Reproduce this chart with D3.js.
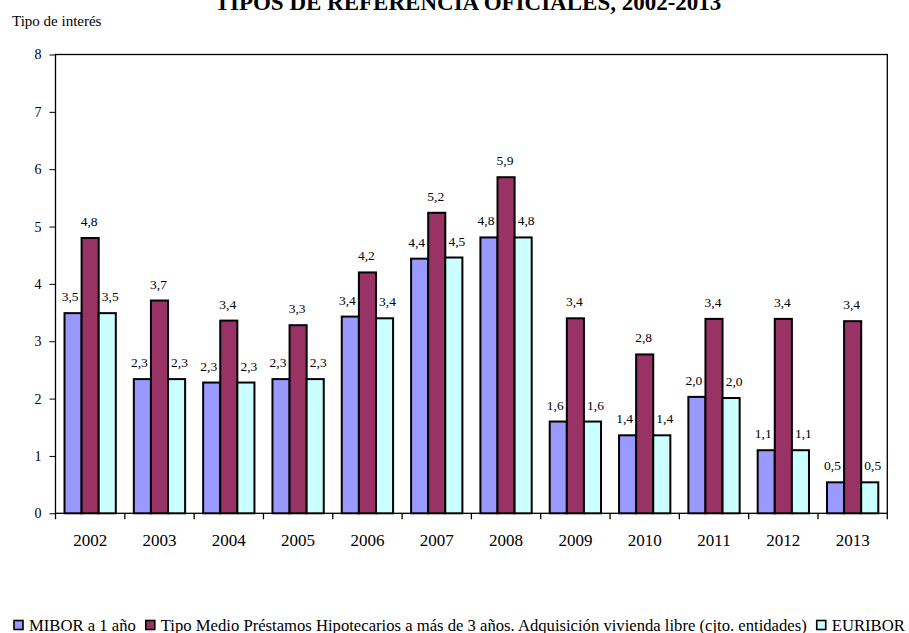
<!DOCTYPE html>
<html>
<head>
<meta charset="utf-8">
<script src="https://cdn.jsdelivr.net/npm/d3@7"></script>
<style>
  body { margin: 0; background: #fff; }
  text { font-family: "Liberation Serif", "Times New Roman", serif; fill: #000; }
</style>
</head>
<body>
<div></div>
<script>
const years = ["2002", "2003", "2004", "2005", "2006", "2007", "2008", "2009", "2010", "2011", "2012", "2013"];
const mibor = [3.49, 2.34, 2.28, 2.34, 3.43, 4.44, 4.81, 1.60, 1.36, 2.03, 1.10, 0.54];
const hipotecario = [4.80, 3.71, 3.36, 3.28, 4.20, 5.24, 5.86, 3.40, 2.77, 3.39, 3.39, 3.35];
const euribor = [3.49, 2.34, 2.28, 2.34, 3.40, 4.46, 4.81, 1.60, 1.36, 2.01, 1.10, 0.54];
const seriesNames = [
  "MIBOR a 1 año",
  "Tipo Medio Préstamos Hipotecarios a más de 3 años. Adquisición vivienda libre (cjto. entidades)",
  "EURIBOR"
];
const yTicks = [0, 1, 2, 3, 4, 5, 6, 7, 8];

const colours = ["#9999ff", "#993366", "#ccffff"];

const size = {
  width: 909,
  height: 633,
  left: 55.5,
  right: 887.3,
  top: 54.5,
  bottom: 513.3
}

const series = [mibor, hipotecario, euribor];
const labelShift = [-3, -1, 3]; // labels sit a little apart, like the source
const fmt = v => d3.format(".1f")(v).replace(".", ",");

function createScales() {
  const x = d3.scaleBand().domain(years)
    .range([size.left, size.right])
    .paddingInner(0.26).paddingOuter(0.13);
  const inner = d3.scaleBand().domain(d3.range(series.length)).range([0, x.bandwidth()]);
  const y = d3.scaleLinear().domain([0, 8]).range([size.bottom, size.top]);
  return {x, inner, y};
}

function draw(scale) {
  const svg = d3.select("div").append("svg")
    .attr("width", size.width)
    .attr("height", size.height);

  // title, clipped at the top as in the source
  svg.append("text")
    .attr("x", 468).attr("y", 9.5)
    .attr("text-anchor", "middle")
    .style("font-size", "23px").style("font-weight", "bold")
    .text("TIPOS DE REFERENCIA OFICIALES, 2002-2013");

  svg.append("text")
    .attr("x", 12).attr("y", 26)
    .style("font-size", "15px")
    .text("Tipo de interés");

  // plot frame
  svg.append("rect")
    .attr("x", size.left).attr("y", size.top)
    .attr("width", size.right - size.left).attr("height", size.bottom - size.top)
    .attr("fill", "none").attr("stroke", "#000").attr("stroke-width", 1.3);

  const yAxis = d3.axisLeft(scale.y).tickValues(yTicks).tickSize(6).tickPadding(8);
  const gy = svg.append("g")
    .attr("transform", `translate(${size.left}, 0)`)
    .call(yAxis);
  gy.select(".domain").remove();
  gy.selectAll("text").style("font-size", "14px");

  // x ticks on category boundaries
  const step = scale.x.step();
  const bounds = years.map(d => scale.x(d) - (step - scale.x.bandwidth()) / 2).concat([size.right]);
  svg.append("g").selectAll("line")
    .data(bounds).join("line")
    .attr("x1", d => d).attr("x2", d => d)
    .attr("y1", size.bottom).attr("y2", size.bottom + 6)
    .attr("stroke", "#000").attr("stroke-width", 1.3);

  svg.append("g").selectAll("text")
    .data(years).join("text")
    .attr("x", d => scale.x(d) + scale.x.bandwidth() / 2)
    .attr("y", 546)
    .attr("text-anchor", "middle")
    .style("font-size", "17px")
    .text(d => d);

  const groups = svg.append("g").selectAll("g")
    .data(years).join("g")
    .attr("transform", d => `translate(${scale.x(d)}, 0)`);

  groups.selectAll("rect")
    .data((d, i) => series.map((s, k) => ({k, v: s[i]})))
    .join("rect")
    .attr("x", d => scale.inner(d.k))
    .attr("y", d => scale.y(d.v))
    .attr("width", scale.inner.bandwidth())
    .attr("height", d => scale.y(0) - scale.y(d.v))
    .attr("fill", d => colours[d.k])
    .attr("stroke", "#000").attr("stroke-width", 2);

  groups.selectAll("text")
    .data((d, i) => series.map((s, k) => ({k, v: s[i]})))
    .join("text")
    .attr("x", d => scale.inner(d.k) + scale.inner.bandwidth() / 2 + labelShift[d.k])
    .attr("y", d => scale.y(d.v) - 12)
    .attr("text-anchor", "middle")
    .style("font-size", "13.5px")
    .text(d => fmt(d.v));

  // legend
  const legend = svg.append("g");
  let lx = 14;
  seriesNames.forEach((name, k) => {
    legend.append("rect")
      .attr("x", lx).attr("y", 620.5)
      .attr("width", 9).attr("height", 9)
      .attr("fill", colours[k]).attr("stroke", "#000").attr("stroke-width", 1.6);
    const t = legend.append("text")
      .attr("x", lx + 15).attr("y", 630.5)
      .style("font-size", "16.65px")
      .text(name);
    lx += 15 + t.node().getComputedTextLength() + 10;
  });
}

draw(createScales());
</script>
</body>
</html>
